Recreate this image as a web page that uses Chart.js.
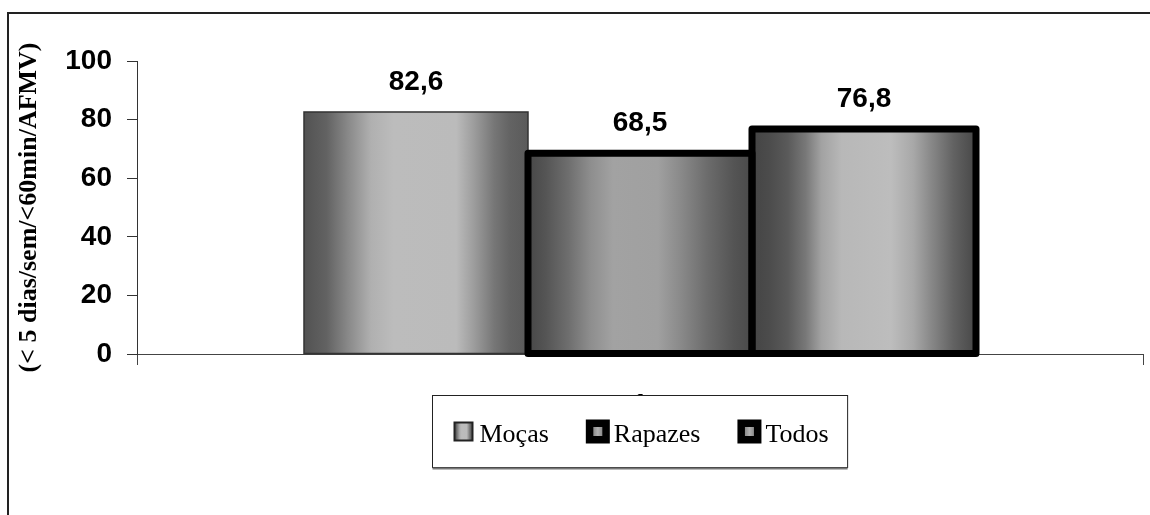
<!DOCTYPE html>
<html>
<head>
<meta charset="utf-8">
<script src="https://cdn.jsdelivr.net/npm/chart.js@4/dist/chart.umd.min.js"></script>
<style>
  html, body { margin: 0; padding: 0; background: #fff; }
  #wrap { width: 1150px; height: 515px; position: relative; }
</style>
</head>
<body>
<div id="wrap"><canvas id="c" width="1150" height="515"></canvas></div>
<script>
// ---- data ----
const categories = ['1'];
const seriesNames = ['Moças', 'Rapazes', 'Todos'];
const valuesMocas = [82.6];
const valuesRapazes = [68.5];
const valuesTodos = [76.8];
const yTickValues = [0, 20, 40, 60, 80, 100];
const yAxisTitle = '(< 5 dias/sem/<60min/AFMV)';

// ---- styles ----
const shadeStops = [
  [[0, '#525252'], [0.1, '#626262'], [0.2, '#8a8a8a'], [0.3, '#b0b0b0'], [0.4, '#bcbcbc'],
   [0.68, '#bbbbbb'], [0.76, '#9c9c9c'], [0.85, '#767676'], [0.92, '#636363'], [1, '#5a5a5a']],
  [[0, '#474747'], [0.08, '#555555'], [0.18, '#6e6e6e'], [0.28, '#8e8e8e'], [0.38, '#a2a2a2'],
   [0.58, '#a0a0a0'], [0.68, '#8a8a8a'], [0.8, '#6c6c6c'], [0.92, '#545454'], [1, '#4a4a4a']],
  [[0, '#444444'], [0.08, '#4c4c4c'], [0.16, '#5a5a5a'], [0.24, '#787878'], [0.31, '#a2a2a2'],
   [0.4, '#b8b8b8'], [0.62, '#bdbdbd'], [0.72, '#a8a8a8'], [0.8, '#888888'], [0.9, '#626262'], [1, '#474747']]
];
const outlineWidths = [1.5, 7, 7];
const outlineColors = ['#333333', '#000000', '#000000'];

function hGradient(ctx, x0, x1, stops) {
  const g = ctx.createLinearGradient(x0, 0, x1, 0);
  stops.forEach(s => g.addColorStop(s[0], s[1]));
  return g;
}

function barFill(i) {
  return (context) => {
    const el = context.element;
    if (!el || !isFinite(el.x) || !isFinite(el.width)) return '#999999';
    return hGradient(context.chart.ctx, el.x - el.width / 2, el.x + el.width / 2, shadeStops[i]);
  };
}

const seriesValues = [valuesMocas, valuesRapazes, valuesTodos];

// white page + outer frame
const framePlugin = {
  id: 'frame',
  beforeDraw(chart) {
    const c = chart.ctx;
    c.save();
    c.fillStyle = '#ffffff';
    c.fillRect(0, 0, chart.width, chart.height);
    c.strokeStyle = '#222222';
    c.lineWidth = 2;
    c.beginPath();
    c.moveTo(8, chart.height);
    c.lineTo(8, 13);
    c.lineTo(chart.width, 13);
    c.stroke();
    c.restore();
  }
};

// outlines centred on each bar's edges, then value labels above bars
const barOutlinePlugin = {
  id: 'barOutline',
  afterDatasetsDraw(chart) {
    const c = chart.ctx;
    const yScale = chart.scales.y;
    c.save();
    chart.data.datasets.forEach((ds, di) => {
      const meta = chart.getDatasetMeta(di);
      meta.data.forEach(el => {
        const l = el.x - el.width / 2, r = el.x + el.width / 2;
        const t = Math.min(el.y, el.base), b = Math.max(el.y, el.base);
        c.strokeStyle = outlineColors[di];
        c.lineWidth = outlineWidths[di];
        c.lineJoin = outlineWidths[di] > 2 ? 'round' : 'miter';
        c.strokeRect(l, t, r - l, b - t);
      });
    });
    c.font = 'bold 28px "Liberation Sans", Arial, sans-serif';
    c.fillStyle = '#000000';
    c.textAlign = 'center';
    c.textBaseline = 'alphabetic';
    chart.data.datasets.forEach((ds, di) => {
      const meta = chart.getDatasetMeta(di);
      meta.data.forEach((el, i) => {
        const v = ds.data[i];
        const txt = v.toFixed(1).replace('.', ',');
        c.fillText(txt, el.x, yScale.getPixelForValue(v) - 22);
      });
    });
    c.restore();
  }
};

// boxed legend under the axis
const boxLegendPlugin = {
  id: 'boxLegend',
  afterDraw(chart) {
    const c = chart.ctx;
    const area = chart.chartArea;
    const font = '26px "Liberation Serif", "Times New Roman", serif';
    c.save();
    c.font = font;
    const cell = 24, gapText = 4, gapItem = 37, padX = 19;
    const items = chart.data.datasets.map((ds, i) => ({
      label: ds.label, i, w: cell + gapText + c.measureText(ds.label).width
    }));
    const contentW = items.reduce((s, it) => s + it.w, 0) + gapItem * (items.length - 1);
    const boxW = contentW + padX * 2;
    const boxH = 72;
    const cx = (area.left + area.right) / 2;
    const bx = Math.round(cx - boxW / 2) + 0.5;
    const by = 395.5;
    c.fillStyle = '#ffffff';
    c.fillRect(bx, by, boxW, boxH);
    c.strokeStyle = '#222222';
    c.lineWidth = 1;
    c.strokeRect(bx, by, boxW, boxH);
    c.strokeStyle = '#777777';
    c.lineWidth = 2;
    c.beginPath();
    c.moveTo(bx, by + boxH + 1);
    c.lineTo(bx + boxW, by + boxH + 1);
    c.stroke();

    const midY = by + 36;
    let x = bx + padX;
    items.forEach(it => {
      const mcx = x + cell / 2;
      if (outlineWidths[it.i] > 2) {
        c.fillStyle = '#000000';
        c.fillRect(mcx - 12, midY - 12, 24, 24);
        c.fillStyle = hGradient(c, mcx - 4.5, mcx + 4.5, [[0, '#8a8a8a'], [0.5, '#b0b0b0'], [1, '#8a8a8a']]);
        c.fillRect(mcx - 4.5, midY - 4.5, 9, 9);
      } else {
        c.fillStyle = hGradient(c, mcx - 9, mcx + 9, shadeStops[it.i]);
        c.fillRect(mcx - 9, midY - 9, 18, 18);
        c.strokeStyle = '#222222';
        c.lineWidth = 2;
        c.strokeRect(mcx - 9, midY - 9, 18, 18);
      }
      c.fillStyle = '#000000';
      c.textAlign = 'left';
      c.textBaseline = 'alphabetic';
      c.font = font;
      c.fillText(it.label, x + cell + gapText, midY + 10);
      x += it.w + gapItem;
    });
    c.restore();
  }
};

const chart = new Chart(document.getElementById('c'), {
  type: 'bar',
  data: {
    labels: categories,
    datasets: seriesNames.map((name, i) => ({
      label: name,
      data: seriesValues[i],
      backgroundColor: barFill(i),
      borderWidth: 0,
      categoryPercentage: 0.668,
      barPercentage: 1.0
    }))
  },
  options: {
    responsive: false,
    animation: false,
    devicePixelRatio: 1,
    layout: { padding: { top: 61, right: 7, left: 0, bottom: 0 } },
    plugins: {
      legend: { display: false },
      tooltip: { enabled: false }
    },
    scales: {
      x: {
        offset: true,
        grid: { drawOnChartArea: false, tickLength: 11, color: '#444444', lineWidth: 1 },
        border: { color: '#444444', width: 1 },
        ticks: {
          color: '#000000',
          padding: 23,
          font: { family: '"Liberation Sans", Arial, sans-serif', size: 28, weight: 'bold' }
        },
        afterFit(scale) { scale.height = 161; }
      },
      y: {
        min: 0,
        max: 100,
        afterBuildTicks(scale) { scale.ticks = yTickValues.map(v => ({ value: v })); },
        grid: { drawOnChartArea: false, tickLength: 10, color: '#333333', lineWidth: 1 },
        border: { color: '#333333', width: 1 },
        ticks: {
          color: '#000000',
          padding: 15,
          font: { family: '"Liberation Sans", Arial, sans-serif', size: 28, weight: 'bold' }
        },
        title: {
          display: true,
          text: yAxisTitle,
          color: '#000000',
          padding: { top: 14, bottom: 0 },
          font: { family: '"Liberation Serif", "Times New Roman", serif', size: 26, weight: 'bold' }
        },
        afterFit(scale) { scale.width = 137; }
      }
    }
  },
  plugins: [framePlugin, barOutlinePlugin, boxLegendPlugin]
});
// second pass so the bar gradients follow the laid-out bar positions
chart.update('none');
</script>
</body>
</html>
